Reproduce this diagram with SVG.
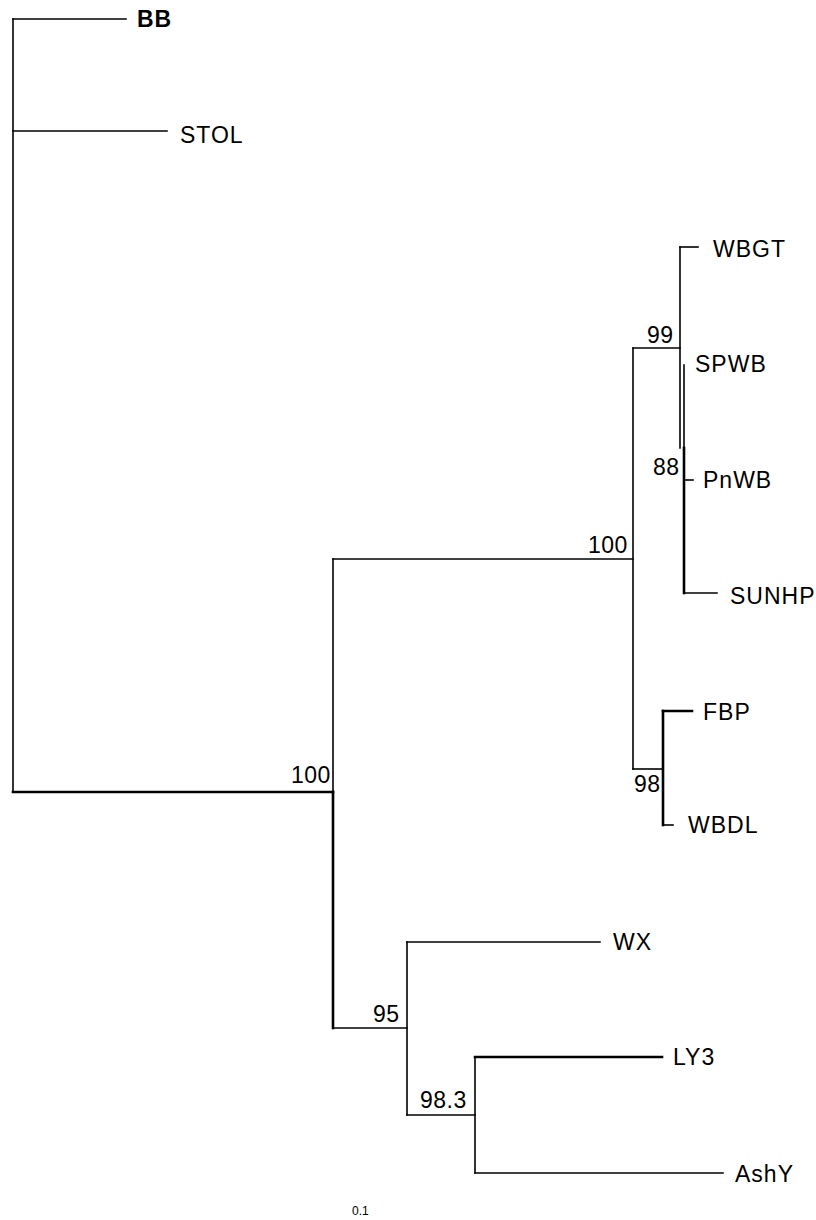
<svg xmlns="http://www.w3.org/2000/svg" width="816" height="1220" viewBox="0 0 816 1220">
<style>
.e{stroke:#000;stroke-width:1.6;fill:none;stroke-linecap:square}
.t{stroke-width:2.6}
.lab{font-family:"Liberation Sans",Arial,sans-serif;font-size:23px;letter-spacing:1px;fill:#000}
.num{font-family:"Liberation Sans",Arial,sans-serif;font-size:23px;letter-spacing:0.5px;fill:#000}
.sc{font-family:"Liberation Sans",Arial,sans-serif;font-size:12px;fill:#000}
</style>
<rect width="816" height="1220" fill="#fff"/>
<g id="connectors">
<path class="e" d="M13,19V792"/>
<path class="e" d="M13,19H126"/>
<path class="e" d="M13,131H167"/>
<path class="e t" d="M13,792H333"/>
<path class="e" d="M333,559V792"/>
<path class="e t" d="M333,792V1028"/>
<path class="e" d="M333,559H633"/>
<path class="e" d="M633,348V769"/>
<path class="e" d="M633,348H680"/>
<path class="e" d="M680,247V448"/>
<path class="e" d="M680,247H698"/>
<path class="e" d="M684,365V448"/>
<path class="e t" d="M684,448V593"/>
<path class="e" d="M684,480H693"/>
<path class="e" d="M684,593H717"/>
<path class="e" d="M633,769H663"/>
<path class="e t" d="M663,711V825"/>
<path class="e t" d="M663,711H692"/>
<path class="e" d="M663,825H673"/>
<path class="e" d="M333,1028H407"/>
<path class="e" d="M407,942V1115"/>
<path class="e" d="M407,942H600"/>
<path class="e" d="M407,1115H475"/>
<path class="e" d="M475,1057V1173"/>
<path class="e t" d="M475,1057H662"/>
<path class="e" d="M475,1173H723"/>
</g>
<g id="node-BB"><text class="lab" x="137" y="27" font-weight="bold">BB</text></g>
<g id="node-STOL"><text class="lab" x="180" y="143">STOL</text></g>
<g id="node-WBGT"><text class="lab" x="713" y="257">WBGT</text></g>
<g id="node-SPWB"><text class="lab" x="695" y="372">SPWB</text></g>
<g id="node-PnWB"><text class="lab" x="703" y="488">PnWB</text></g>
<g id="node-SUNHP"><text class="lab" x="730" y="604">SUNHP</text></g>
<g id="node-FBP"><text class="lab" x="703" y="720">FBP</text></g>
<g id="node-WBDL"><text class="lab" x="688" y="833">WBDL</text></g>
<g id="node-WX"><text class="lab" x="613" y="950">WX</text></g>
<g id="node-LY3"><text class="lab" x="673" y="1065">LY3</text></g>
<g id="node-AshY"><text class="lab" x="735" y="1182">AshY</text></g>
<g id="node-root"><text class="num" x="291" y="783">100</text></g>
<g id="node-n100"><text class="num" x="588" y="553">100</text></g>
<g id="node-n99"><text class="num" x="647" y="343">99</text></g>
<g id="node-n88"><text class="num" x="653" y="475">88</text></g>
<g id="node-n98"><text class="num" x="634" y="792">98</text></g>
<g id="node-n95"><text class="num" x="373" y="1022">95</text></g>
<g id="node-n983"><text class="num" x="420" y="1108">98.3</text></g>
<g id="scale"><text class="sc" x="352" y="1215">0.1</text></g>
</svg>
